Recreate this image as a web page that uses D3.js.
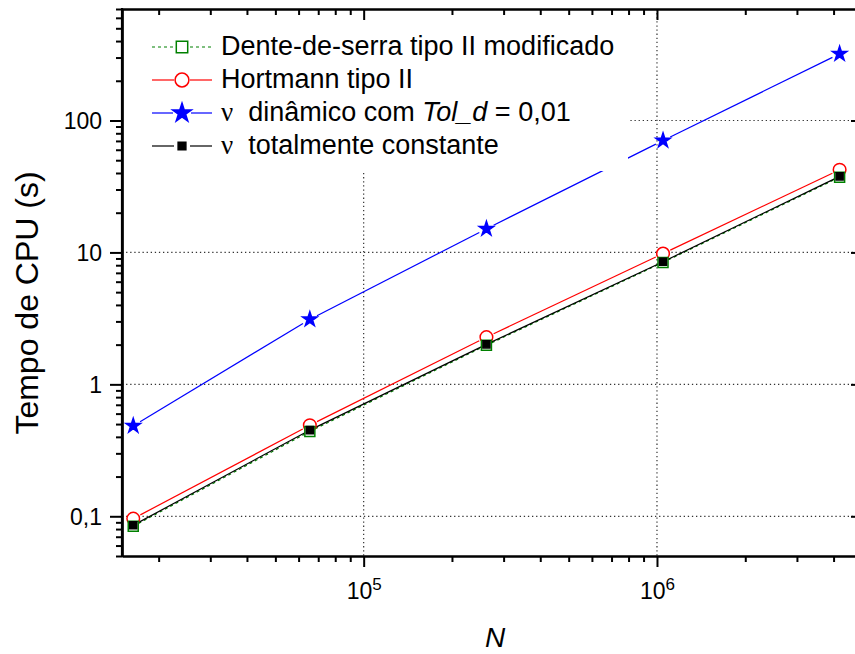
<!DOCTYPE html>
<html>
<head>
<meta charset="utf-8">
<script src="https://cdn.jsdelivr.net/npm/d3@7/dist/d3.min.js"></script>
<style>
  html, body { margin: 0; padding: 0; background: #fff; }
  svg { display: block; font-family: "Liberation Sans", Arial, sans-serif; }
</style>
</head>
<body>
<svg id="chart" width="855" height="654"></svg>
<script>
// ---------------- data ----------------
const N = [16384, 65536, 262144, 1048576, 4194304];
const denteSerra  = [0.084, 0.44, 1.98, 8.4, 37.2];
const hortmann    = [0.096, 0.49, 2.28, 9.8, 42.3];
const nuDinamico  = [0.485, 3.11, 15.1, 70.5, 320];
const nuConstante = [0.0855, 0.45, 2.01, 8.5, 37.7];

const yMajorTicks = [0.1, 1, 10, 100];
const yTickLabels = ["0,1", "1", "10", "100"];
const xMajorTicks = [1e5, 1e6];
const xTickExponents = ["5", "6"];

const legendLabels = [
  "Dente-de-serra tipo II modificado",
  "Hortmann tipo II",
  "dinâmico com",
  "totalmente constante"
];

// ---------------- setup ----------------
const svg = d3.select("#chart");
const L = 122, R = 862, T = 9, B = 556;
const x = d3.scaleLog().domain([15000, 5e6]).range([L, R]);
const y = d3.scaleLog().domain([0.05, 700]).range([B, T]);

function minorTicks(lo, hi) {
  const out = [];
  for (let e = Math.floor(Math.log10(lo)); e <= Math.ceil(Math.log10(hi)); e++) {
    for (let m = 2; m <= 9; m++) {
      const v = m * Math.pow(10, e);
      if (v >= lo * 0.9999 && v <= hi * 1.0001) out.push(v);
    }
  }
  return out;
}
const xMinor = minorTicks(15000, 5e6);
const yMinor = minorTicks(0.05, 700);

// ---------------- grid ----------------
const grid = svg.append("g").attr("stroke", "#333").attr("stroke-width", 1.2)
  .attr("stroke-dasharray", "1.3,2.8");
grid.selectAll(".gx").data(xMajorTicks).join("line")
  .attr("x1", d => x(d)).attr("x2", d => x(d)).attr("y1", T).attr("y2", B);
grid.selectAll(".gy").data(yMajorTicks).join("line")
  .attr("y1", d => y(d)).attr("y2", d => y(d)).attr("x1", L).attr("x2", R);

// ---------------- series ----------------
function segments(g, vals, gap, color, dash, width) {
  const pts = N.map((n, i) => [x(n), y(vals[i])]);
  const segs = [];
  for (let i = 0; i < pts.length - 1; i++) {
    const [x0, y0] = pts[i], [x1, y1] = pts[i + 1];
    const len = Math.hypot(x1 - x0, y1 - y0);
    const ux = (x1 - x0) / len, uy = (y1 - y0) / len;
    segs.push([x0 + ux * gap, y0 + uy * gap, x1 - ux * gap, y1 - uy * gap]);
  }
  g.selectAll(null).data(segs).join("line")
    .attr("x1", d => d[0]).attr("y1", d => d[1])
    .attr("x2", d => d[2]).attr("y2", d => d[3])
    .attr("stroke", color).attr("stroke-width", width || 1.2)
    .attr("stroke-dasharray", dash || null);
}

const series = [
  { key: "dente", vals: denteSerra, color: "#008000", dash: "3,3", gap: 6,
    sym: d3.symbolSquare, size: 100, fill: "#fff", stroke: "#008000" },
  { key: "hort", vals: hortmann, color: "#ff0000", dash: null, gap: 8,
    sym: d3.symbolCircle, size: 125, fill: "#fff", stroke: "#ff0000" },
  { key: "din", vals: nuDinamico, color: "#0000ff", dash: null, gap: 8,
    sym: d3.symbolStar, size: 66, fill: "#0000ff", stroke: "#0000ff" },
  { key: "const", vals: nuConstante, color: "#000000", dash: null, gap: 4,
    sym: d3.symbolSquare, size: 50, fill: "#000", stroke: "#000" }
];

const gLines = svg.append("g");
series.forEach(s => segments(gLines, s.vals, s.gap, s.color, s.dash, 1.2));

const drawOrder = ["hort", "din", "dente", "const"];
const gMarks = svg.append("g");
drawOrder.forEach(k => {
  const s = series.find(d => d.key === k);
  gMarks.selectAll(null).data(N).join("path")
    .attr("transform", (n, i) => `translate(${x(n)},${y(s.vals[i])})`)
    .attr("d", d3.symbol().type(s.sym).size(s.size))
    .attr("fill", s.fill).attr("stroke", s.stroke).attr("stroke-width", 1.5);
});

// ---------------- legend ----------------
const leg = svg.append("g");
leg.append("rect").attr("x", L + 1.5).attr("y", T + 1.5)
  .attr("width", 628 - L - 1.5).attr("height", 171 - T - 1.5).attr("fill", "#fff");
const rowY = [47, 80, 113, 146];
const lx0 = 152, lx1 = 212, lxm = 182;
series.forEach((s, i) => {
  const g = leg.append("g");
  const gap = s.key === "din" ? 9 : 8;
  g.append("line").attr("x1", lx0).attr("x2", lxm - gap).attr("y1", rowY[i]).attr("y2", rowY[i])
    .attr("stroke", s.color).attr("stroke-width", 1.2).attr("stroke-dasharray", s.dash);
  g.append("line").attr("x1", lxm + gap).attr("x2", lx1).attr("y1", rowY[i]).attr("y2", rowY[i])
    .attr("stroke", s.color).attr("stroke-width", 1.2).attr("stroke-dasharray", s.dash);
  const sz = s.key === "din" ? 110 : (s.key === "dente" ? 130 : (s.key === "hort" ? 150 : 60));
  g.append("path").attr("transform", `translate(${lxm},${rowY[i]})`)
    .attr("d", d3.symbol().type(s.sym).size(sz))
    .attr("fill", s.fill).attr("stroke", s.stroke).attr("stroke-width", 1.5);
});
const fs = 27;
leg.append("text").attr("x", 221).attr("y", 55).attr("font-size", fs).text(legendLabels[0]);
leg.append("text").attr("x", 221).attr("y", 88).attr("font-size", fs).text(legendLabels[1]);
const t3 = leg.append("text").attr("x", 221).attr("y", 121).attr("font-size", fs)
  .style("white-space", "pre");
t3.append("tspan").attr("font-family", "'Liberation Serif', 'Times New Roman', serif").text("ν");
t3.append("tspan").text("  " + legendLabels[2] + " ");
t3.append("tspan").attr("font-style", "italic").text("Tol_d");
t3.append("tspan").text(" = 0,01");
const t4 = leg.append("text").attr("x", 221).attr("y", 154).attr("font-size", fs)
  .style("white-space", "pre");
t4.append("tspan").attr("font-family", "'Liberation Serif', 'Times New Roman', serif").text("ν");
t4.append("tspan").text("  " + legendLabels[3]);

// ---------------- axes ----------------
function styleAxis(g) {
  g.select(".domain").attr("stroke", "#000").attr("stroke-width", 2.2);
  g.selectAll(".tick line").attr("stroke", "#000").attr("stroke-width", 2);
  g.selectAll(".tick text").remove();
}
// bottom
svg.append("g").attr("transform", `translate(0,${B})`)
  .call(d3.axisBottom(x).tickValues(xMajorTicks).tickSize(11).tickSizeOuter(0).tickFormat(""))
  .call(styleAxis);
svg.append("g").attr("transform", `translate(0,${B})`)
  .call(d3.axisBottom(x).tickValues(xMinor).tickSize(6).tickSizeOuter(0).tickFormat(""))
  .call(styleAxis);
// top (inward)
svg.append("g").attr("transform", `translate(0,${T})`)
  .call(d3.axisTop(x).tickValues(xMajorTicks).tickSize(-11).tickSizeOuter(0).tickFormat(""))
  .call(styleAxis);
svg.append("g").attr("transform", `translate(0,${T})`)
  .call(d3.axisTop(x).tickValues(xMinor).tickSize(-6).tickSizeOuter(0).tickFormat(""))
  .call(styleAxis);
// left
svg.append("g").attr("transform", `translate(${L},0)`)
  .call(d3.axisLeft(y).tickValues(yMajorTicks).tickSize(12).tickSizeOuter(0).tickFormat(""))
  .call(styleAxis);
svg.append("g").attr("transform", `translate(${L},0)`)
  .call(d3.axisLeft(y).tickValues(yMinor).tickSize(6).tickSizeOuter(0).tickFormat(""))
  .call(styleAxis);
// right (inward)
svg.append("g").attr("transform", `translate(${R},0)`)
  .call(d3.axisRight(y).tickValues(yMajorTicks).tickSize(-11).tickSizeOuter(0).tickFormat(""))
  .call(styleAxis);
svg.append("g").attr("transform", `translate(${R},0)`)
  .call(d3.axisRight(y).tickValues(yMinor).tickSize(-6).tickSizeOuter(0).tickFormat(""))
  .call(styleAxis);
// corner join
svg.append("line").attr("x1", L).attr("x2", L).attr("y1", T - 1.1).attr("y2", B + 1.1)
  .attr("stroke", "#000").attr("stroke-width", 2.2);

// tick labels
svg.append("g").selectAll("text").data(yMajorTicks).join("text")
  .attr("x", 102).attr("y", d => y(d)).attr("dy", "0.36em")
  .attr("text-anchor", "end").attr("font-size", 23)
  .text((d, i) => yTickLabels[i]);
const xl = svg.append("g").selectAll("text").data(xMajorTicks).join("text")
  .attr("x", d => x(d) - 17).attr("y", 599).attr("font-size", 23);
xl.append("tspan").text("10");
xl.append("tspan").attr("font-size", 17).attr("dy", -9.5).text((d, i) => xTickExponents[i]);

// axis titles
svg.append("text").attr("transform", "translate(38,303) rotate(-90)")
  .attr("text-anchor", "middle").attr("font-size", 32).text("Tempo de CPU (s)");
svg.append("text").attr("x", 495).attr("y", 647).attr("text-anchor", "middle")
  .attr("font-size", 28).attr("font-style", "italic").text("N");
</script>
</body>
</html>
